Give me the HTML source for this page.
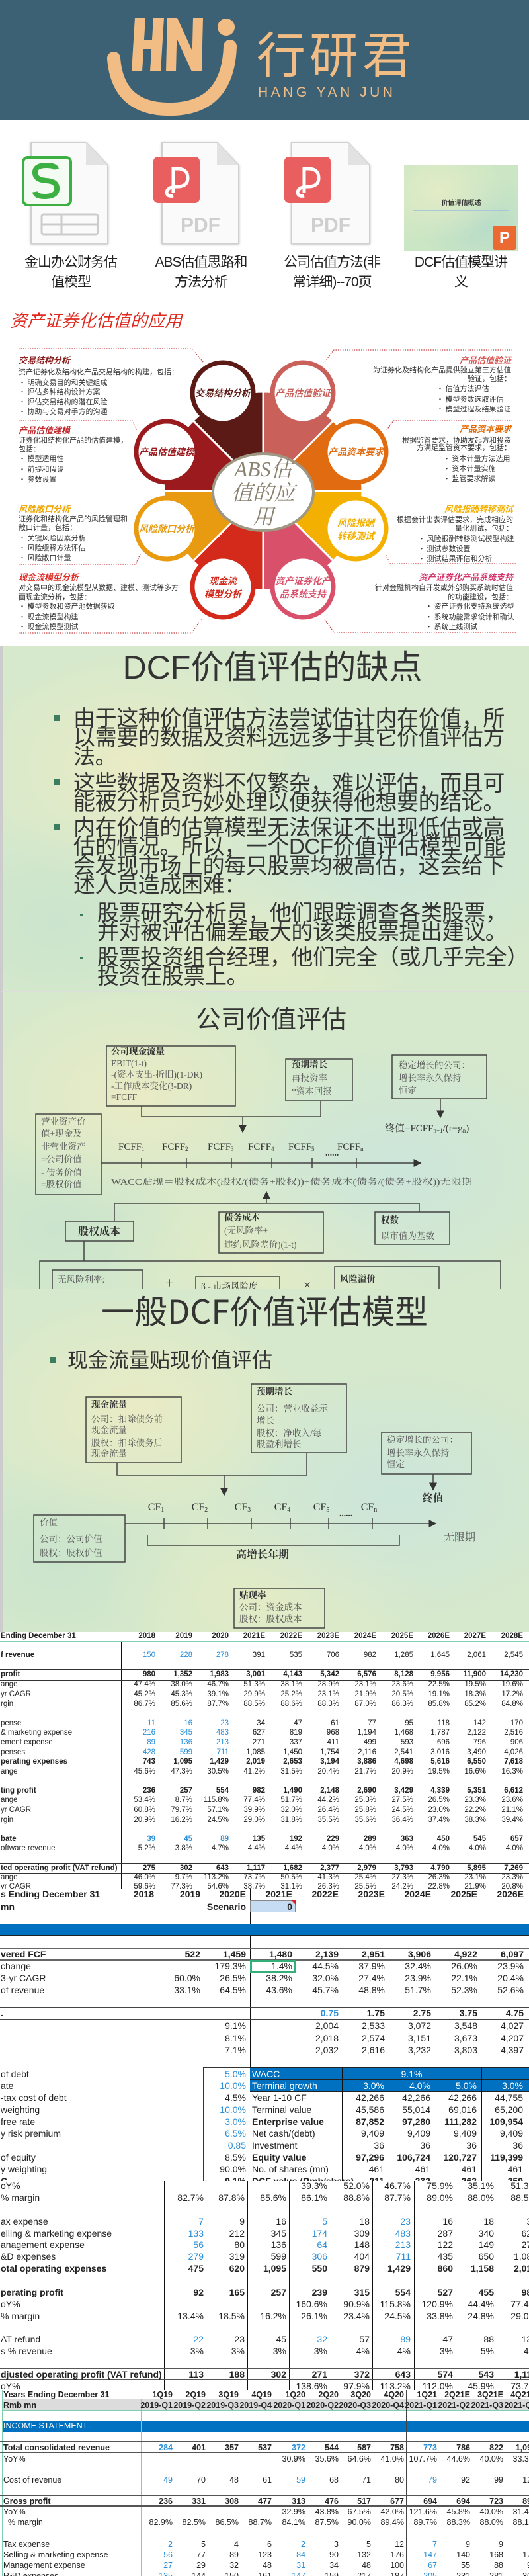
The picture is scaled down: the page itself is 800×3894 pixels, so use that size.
<!DOCTYPE html>
<html><head><meta charset="utf-8">
<style>
*{margin:0;padding:0;box-sizing:border-box}
body{width:800px;height:3894px;position:relative;overflow:hidden;background:#fff;font-family:"Liberation Sans","Noto Sans CJK SC",sans-serif;color:#222}
.abs{position:absolute}
.banner{left:0;top:0;width:800px;height:182px;background:#3c6175}
.lbl{position:absolute;width:180px;text-align:center;font-size:21px;line-height:30px;color:#222;letter-spacing:-1px}
.slide{position:absolute;left:0;width:800px;overflow:hidden;border-left:4px solid #ccc;
background:radial-gradient(ellipse 260px 180px at 25% 35%,rgba(238,236,195,.8),transparent),radial-gradient(ellipse 300px 200px at 75% 60%,rgba(200,228,225,.7),transparent),radial-gradient(ellipse 250px 160px at 50% 90%,rgba(232,236,195,.7),transparent),radial-gradient(ellipse 220px 160px at 10% 80%,rgba(195,225,205,.6),transparent),#d6e9cc}
.bt{position:absolute;left:107px;font-size:33px;line-height:29px;white-space:nowrap;color:#333;letter-spacing:-0.4px}
.sq{position:absolute;width:9px;height:9px;background:#3d7d5f}
.T{position:absolute;left:0;width:800px;background:#fff;overflow:hidden}
.r{position:absolute;left:0;width:800px;height:16px;line-height:16px;white-space:nowrap}
.r span{position:absolute;top:0;text-align:right;width:60px}
.r span:first-child{left:1px;text-align:left;width:auto}
.b{font-weight:bold}
.u{color:#2a8fd8}
.T1 .r{font-size:11.5px;font-family:"Liberation Sans Narrow","Liberation Sans",sans-serif}
.T1 .r span:nth-child(2){left:175px}.T1 .r span:nth-child(3){left:231px}.T1 .r span:nth-child(4){left:286px}.T1 .r span:nth-child(5){left:341px}.T1 .r span:nth-child(6){left:397px}.T1 .r span:nth-child(7){left:453px}.T1 .r span:nth-child(8){left:509px}.T1 .r span:nth-child(9){left:565px}.T1 .r span:nth-child(10){left:620px}.T1 .r span:nth-child(11){left:675px}.T1 .r span:nth-child(12){left:731px}
.T2 .r{font-size:14px;height:18px;line-height:18px;font-family:"Liberation Sans Narrow","Liberation Sans",sans-serif}
.T2 .r span:nth-child(2){left:173px}.T2 .r span:nth-child(3){left:243px}.T2 .r span:nth-child(4){left:312px}.T2 .r span:nth-child(5){left:382px}.T2 .r span:nth-child(6){left:452px}.T2 .r span:nth-child(7){left:522px}.T2 .r span:nth-child(8){left:592px}.T2 .r span:nth-child(9){left:662px}.T2 .r span:nth-child(10){left:732px}
.T3 .r{font-size:14px;height:18px;line-height:18px;font-family:"Liberation Sans Narrow","Liberation Sans",sans-serif}
.T3 .r span:nth-child(2){left:248px}.T3 .r span:nth-child(3){left:310px}.T3 .r span:nth-child(4){left:373px}.T3 .r span:nth-child(5){left:435px}.T3 .r span:nth-child(6){left:499px}.T3 .r span:nth-child(7){left:561px}.T3 .r span:nth-child(8){left:625px}.T3 .r span:nth-child(9){left:687px}.T3 .r span:nth-child(10){left:752px}
.T4 .r{font-size:12.5px;font-family:"Liberation Sans Narrow","Liberation Sans",sans-serif}
.T4 .r span{width:50px}
.T4 .r span:nth-child(2){left:211px}.T4 .r span:nth-child(3){left:261px}.T4 .r span:nth-child(4){left:311px}.T4 .r span:nth-child(5){left:361px}.T4 .r span:nth-child(6){left:412px}.T4 .r span:nth-child(7){left:462px}.T4 .r span:nth-child(8){left:511px}.T4 .r span:nth-child(9){left:561px}.T4 .r span:nth-child(10){left:611px}.T4 .r span:nth-child(11){left:661px}.T4 .r span:nth-child(12){left:711px}.T4 .r span:nth-child(13){left:761px}
.hl{position:absolute;left:0;width:800px;height:2px;background:#333}
.vl{position:absolute;width:1px;background:#111}
</style></head><body>

<!-- banner -->
<div class="abs banner"></div>
<svg class="abs" style="left:0;top:0" width="800" height="182">
 <g fill="#f2bd85">
  <polygon points="204,27 220,27 215,108 199,108"/>
  <polygon points="232,27 248,27 243,108 227,108"/>
  <polygon points="206,60 242,60 240,74 204,74"/>
  <polygon points="253,27 268,27 266,108 251,108"/>
  <polygon points="292,27 307,27 305,108 290,108"/>
  <polygon points="253,27 268,27 305,108 290,108"/>
  <circle cx="342" cy="41" r="13"/>
 </g>
 <path d="M172,88 Q178,168 262,165 Q345,162 348,70" fill="none" stroke="#f2bd85" stroke-width="20" stroke-linecap="round"/>
 <text x="388" y="110" font-size="74" fill="#f2bd85" font-family="Noto Sans CJK SC,sans-serif" letter-spacing="6">行研君</text>
 <text x="390" y="146" font-size="21" fill="#f2bd85" font-family="Liberation Sans,sans-serif" letter-spacing="4.5">HANG YAN JUN</text>
</svg>

<!-- icons -->
<svg class="abs" style="left:0;top:200" width="800" height="190">
 <defs><filter id="sh"><feDropShadow dx="0" dy="1" stdDeviation="1.5" flood-opacity=".25"/></filter></defs>
 <g filter="url(#sh)">
  <path d="M47,15 H130 L163,50 V168 H47 Z" fill="#fafafa" stroke="#d0d0d0" stroke-width="2"/>
  <path d="M245,15 H328 L361,50 V168 H245 Z" fill="#fafafa" stroke="#d0d0d0" stroke-width="2"/>
  <path d="M441,15 H526 L559,50 V168 H441 Z" fill="#fafafa" stroke="#d0d0d0" stroke-width="2"/>
 </g>
 <path d="M130,15 V50 H163" fill="#e2e2e2"/><path d="M328,15 V50 H361" fill="#e2e2e2"/><path d="M526,15 V50 H559" fill="#e2e2e2"/>
 <rect x="35" y="38" width="72" height="72" rx="7" fill="#f4fbf2" stroke="#3cb043" stroke-width="4"/>
 <path d="M85,56 Q84,50 70,50 Q52,50 53,62 Q54,72 70,73 Q87,74 86,86 Q85,97 68,97 Q54,97 53,90" fill="none" stroke="#3cb043" stroke-width="8"/>
 <rect x="63" y="124" width="85" height="30" rx="3" fill="none" stroke="#ccc" stroke-width="3"/>
 <line x1="63" y1="139" x2="148" y2="139" stroke="#ccc" stroke-width="3"/><line x1="93" y1="124" x2="93" y2="154" stroke="#ccc" stroke-width="3"/>
 <rect x="232" y="37" width="70" height="70" rx="7" fill="#e95e5e"/>
 <rect x="430" y="37" width="70" height="70" rx="7" fill="#e95e5e"/>
 <path d="M262,92 V55 H268 Q284,55 284,69 Q284,82 268,82 Q254,82 252,90 Q252,98 262,96" fill="none" stroke="#fff" stroke-width="5"/>
 <path d="M460,92 V55 H466 Q482,55 482,69 Q482,82 466,82 Q452,82 450,90 Q450,98 460,96" fill="none" stroke="#fff" stroke-width="5"/>
 <text x="303" y="150" font-size="30" text-anchor="middle" fill="#cfcfcf" font-weight="bold" font-family="Liberation Sans,sans-serif">PDF</text>
 <text x="500" y="150" font-size="30" text-anchor="middle" fill="#cfcfcf" font-weight="bold" font-family="Liberation Sans,sans-serif">PDF</text>
</svg>
<div class="abs" style="left:611px;top:250px;width:173px;height:130px;background:radial-gradient(ellipse at 30% 30%,#e3ecc6,transparent 60%),radial-gradient(ellipse at 70% 70%,#b9dcc8,transparent 60%),#cbe6c4"></div>
<div class="abs" style="left:611px;top:298px;width:173px;text-align:center;font-size:10px;font-weight:bold;color:#333">价值评估概述</div>
<div class="abs" style="left:625px;top:318px;width:145px;height:1px;background:#a8c8d8"></div>
<div class="abs" style="left:745px;top:341px;width:36px;height:37px;border-radius:4px;background:#ec6a32;color:#fff;font-size:24px;font-weight:bold;text-align:center;line-height:37px">P</div>
<div class="lbl" style="left:17px;top:382px">金山办公财务估<br>值模型</div>
<div class="lbl" style="left:214px;top:382px">ABS估值思路和<br>方法分析</div>
<div class="lbl" style="left:412px;top:382px">公司估值方法(非<br>常详细)--70页</div>
<div class="lbl" style="left:607px;top:382px">DCF估值模型讲<br>义</div>

<!-- ABS diagram -->
<svg class="abs" style="left:0;top:0" width="800" height="970">
 <text x="15" y="494" font-size="26" fill="#e02a20" font-style="italic" font-family="Noto Sans CJK SC,sans-serif">资产证券化估值的应用</text>
 <g fill="none" stroke="#c84040" stroke-width="1.3" stroke-dasharray="1.5,2">
  <polyline points="28,527 290,527 308,548"/><polyline points="28,636 200,636 207,650"/>
  <polyline points="28,853 205,853 212,838"/><polyline points="28,957 290,957 305,935"/>
  <polyline points="775,529 505,529 490,548"/><polyline points="775,636 595,636 585,650"/>
  <polyline points="780,852 590,852 583,838"/><polyline points="780,956 505,956 490,935"/>
 </g>
 <g stroke="#fff" stroke-width="3">
  <path d="M398,742 L292,636 A150,150 0 0 1 398,592 Z" fill="#5c1a16"/>
  <path d="M398,742 L398,592 A150,150 0 0 1 504,636 Z" fill="#c9605a"/>
  <path d="M398,742 L504,636 A150,150 0 0 1 548,742 Z" fill="#e06b10"/>
  <path d="M398,742 L548,742 A150,150 0 0 1 504,848 Z" fill="#f3b000"/>
  <path d="M398,742 L504,848 A150,150 0 0 1 398,892 Z" fill="#d9506a"/>
  <path d="M398,742 L398,892 A150,150 0 0 1 292,848 Z" fill="#d42a1c"/>
  <path d="M398,742 L292,848 A150,150 0 0 1 248,742 Z" fill="#e89a10"/>
  <path d="M398,742 L248,742 A150,150 0 0 1 292,636 Z" fill="#9a1a1e"/>
 </g>
 <g fill="#fff" stroke-width="7">
  <ellipse cx="337" cy="594" rx="46" ry="46" stroke="#5c1a16"/>
  <ellipse cx="458" cy="594" rx="46" ry="46" stroke="#c9605a"/>
  <ellipse cx="252" cy="683" rx="46" ry="46" stroke="#9a1a1e"/>
  <ellipse cx="538" cy="683" rx="46" ry="46" stroke="#e06b10"/>
  <ellipse cx="252" cy="799" rx="46" ry="46" stroke="#e89a10"/>
  <ellipse cx="538" cy="799" rx="46" ry="46" stroke="#f3b000"/>
  <ellipse cx="337" cy="887" rx="46" ry="46" stroke="#d42a1c"/>
  <ellipse cx="458" cy="887" rx="46" ry="46" stroke="#d9506a"/>
  <ellipse cx="398" cy="744" rx="76" ry="58" stroke="#9e9784" stroke-width="4"/>
 </g>
 <g font-size="14" font-weight="bold" font-style="italic" text-anchor="middle" font-family="Noto Sans CJK SC,sans-serif">
  <text x="337" y="599" fill="#5c1a16">交易结构分析</text>
  <text x="458" y="599" fill="#c9605a">产品估值验证</text>
  <text x="252" y="688" fill="#9a1a1e">产品估值建模</text>
  <text x="538" y="688" fill="#e06b10">产品资本要求</text>
  <text x="252" y="804" fill="#e89a10">风险敞口分析</text>
  <text x="538" y="795" fill="#f3b000">风险报酬</text><text x="538" y="815" fill="#f3b000">转移测试</text>
  <text x="337" y="883" fill="#d42a1c">现金流</text><text x="337" y="903" fill="#d42a1c">模型分析</text>
  <text x="458" y="883" fill="#d9506a">资产证券化产</text><text x="458" y="903" fill="#d9506a">品系统支持</text>
 </g>
 <g font-size="32" fill="#8a8270" text-anchor="middle" font-style="italic" font-family="Liberation Serif,Noto Serif CJK SC,serif">
  <text x="398" y="720">ABS估</text><text x="398" y="756">值的应</text><text x="398" y="792">用</text>
 </g>
 <g font-size="13" font-weight="bold" font-style="italic" font-family="Noto Sans CJK SC,sans-serif">
  <text x="28" y="549" fill="#8b2020">交易结构分析</text>
  <text x="28" y="655" fill="#c0282d">产品估值建模</text>
  <text x="28" y="774" fill="#f0a500">风险敞口分析</text>
  <text x="28" y="877" fill="#e0302a">现金流模型分析</text>
  <g text-anchor="end">
  <text x="773" y="549" fill="#d9534f">产品估值验证</text>
  <text x="773" y="653" fill="#e36c09">产品资本要求</text>
  <text x="776" y="774" fill="#f5b000">风险报酬转移测试</text>
  <text x="776" y="877" fill="#d6336c">资产证券化产品系统支持</text></g>
 </g>
 <g font-size="11" fill="#333" font-family="Noto Sans CJK SC,sans-serif">
  <text x="28" y="566">资产证券化及结构化产品交易结构的构建，包括：</text>
  <text x="28" y="582">•  明确交易目的和关键组成</text><text x="28" y="596">•  评估多种结构设计方案</text>
  <text x="28" y="611">•  评估交易结构的潜在风险</text><text x="28" y="626">•  协助与交易对手方的沟通</text>
  <text x="28" y="669">证券化和结构化产品的估值建模，</text><text x="28" y="682">包括：</text>
  <text x="28" y="697">•  模型适用性</text><text x="28" y="713">•  前提和假设</text><text x="28" y="728">•  参数设置</text>
  <text x="28" y="788">证券化和结构化产品的风险管理和</text><text x="28" y="801">敞口计量，包括：</text>
  <text x="28" y="817">•  关键风险因素分析</text><text x="28" y="832">•  风险缓释方法评估</text><text x="28" y="847">•  风险敞口计量</text>
  <text x="28" y="892">对交易中的现金流模型从数据、建模、测试等多方</text><text x="28" y="906">面现金流分析，包括：</text>
  <text x="28" y="920">•  模型参数和资产池数据获取</text><text x="28" y="936">•  现金流模型构建</text><text x="28" y="951">•  现金流模型测试</text>
  <g text-anchor="end">
  <text x="773" y="563">为证券化及结构化产品提供独立第三方估值</text><text x="773" y="576">验证，包括：</text>
  <text x="773" y="669">根据监管要求，协助发起方和投资</text><text x="773" y="680">方满足监管资本要求，包括：</text>
  <text x="776" y="789">根据会计出表评估要求，完成相应的</text><text x="776" y="802">量化测试，包括：</text>
  <text x="776" y="892">针对金融机构自开发或外部购买系统时估值</text><text x="776" y="906">的功能建设，包括：</text></g>
  <text x="660" y="591">•  估值方法评估</text><text x="660" y="607">•  模型参数选取评估</text><text x="660" y="622">•  模型过程及结果验证</text>
  <text x="670" y="697">•  资本计量方法选用</text><text x="670" y="712">•  资本计量实施</text><text x="670" y="727">•  监管要求解读</text>
  <text x="632" y="818">•  风险报酬转移测试模型构建</text><text x="632" y="833">•  测试参数设置</text><text x="632" y="848">•  测试结果评估和分析</text>
  <text x="643" y="920">•  资产证券化支持系统选型</text><text x="643" y="936">•  系统功能需求设计和确认</text><text x="643" y="951">•  系统上线测试</text>
 </g>
</svg>

<!-- slide 1 -->
<div class="slide" style="top:976px;height:522px">
 <div class="abs" style="left:0;top:5px;width:796px;text-align:center;font-size:50px;line-height:56px;color:#333;padding-left:20px">DCF价值评估的缺点</div>
 <div class="sq" style="left:78px;top:105px"></div>
 <div class="bt" style="top:95px">由于这种价值评估方法尝试估计内在价值，所<br>以需要的数据及资料远远多于其它价值评估方<br>法。</div>
 <div class="sq" style="left:78px;top:202px"></div>
 <div class="bt" style="top:193px">这些数据及资料不仅繁杂，难以评估，而且可<br>能被分析员巧妙处理以便获得他想要的结论。</div>
 <div class="sq" style="left:78px;top:270px"></div>
 <div class="bt" style="top:260px">内在价值的估算模型无法保证不出现低估或高<br>估的情况。所以，一个DCF价值评估模型可能<br>会发现市场上的每只股票均被高估，这会给下<br>述人员造成困难：</div>
 <div class="abs" style="left:117px;top:405px;width:4px;height:4px;background:#3d7d5f"></div>
 <div class="bt" style="left:143px;top:389px">股票研究分析员，他们跟踪调查各类股票，<br>并对被评估偏差最大的该类股票提出建议。</div>
 <div class="abs" style="left:117px;top:470px;width:4px;height:4px;background:#3d7d5f"></div>
 <div class="bt" style="left:143px;top:456px">股票投资组合经理，他们完全（或几乎完全）<br>投资在股票上。</div>
</div>

<!-- slide 2 -->
<div class="slide" style="top:1498px;height:450px;border-top:1px solid #ddd">
<svg class="abs" style="left:-4px;top:0" width="800" height="450">
 <defs><marker id="ah" markerWidth="8" markerHeight="8" refX="7" refY="4" orient="auto"><path d="M0,0 L8,4 L0,8 Z" fill="#333"/></marker></defs>
 <text x="410" y="55" font-size="38" text-anchor="middle" fill="#333" font-family="Noto Sans CJK SC,sans-serif">公司价值评估</text>
 <g fill="none" stroke="#444" stroke-width="1.5">
  <rect x="161" y="82" width="195" height="91"/><rect x="432" y="102" width="101" height="63"/><rect x="593" y="96" width="143" height="66"/>
  <rect x="54" y="185" width="99" height="122"/>
  <polyline points="214,173 214,189 485,189 485,165"/>
  <line x1="367" y1="189" x2="367" y2="212" marker-end="url(#ah)"/>
  <line x1="666" y1="162" x2="666" y2="190" marker-end="url(#ah)"/>
  <line x1="153" y1="259" x2="636" y2="259" marker-end="url(#ah)"/>
  <path d="M214,252V266M282,252V266M350,252V266M411,252V266M472,252V266M539,252V266"/>
  <line x1="403" y1="320" x2="403" y2="303" marker-end="url(#ah)"/>
  <polyline points="173,347 173,320 634,320 634,333"/>
  <rect x="99" y="347" width="103" height="30"/><rect x="331" y="333" width="158" height="62"/><rect x="567" y="333" width="113" height="49"/>
  <line x1="127" y1="377" x2="127" y2="407"/><rect x="60" y="407" width="697" height="80"/>
  <rect x="79" y="421" width="137" height="40"/><rect x="296" y="431" width="127" height="30"/><rect x="506" y="416" width="158" height="40"/>
 </g>
 <g font-family="Liberation Serif,Noto Serif CJK SC,serif" fill="#555" font-size="13.5">
  <text x="168" y="95" font-weight="bold" fill="#333">公司现金流量</text>
  <text x="168" y="113">EBIT(1-t)</text><text x="168" y="130">-(资本支出-折旧)(1-DR)</text><text x="168" y="147">-工作成本变化(!-DR)</text><text x="168" y="164">=FCFF</text>
  <text x="441" y="115" font-weight="bold" fill="#333">预期增长</text><text x="441" y="135">再投资率</text><text x="441" y="155">*资本回报</text>
  <text x="603" y="116">稳定增长的公司：</text><text x="603" y="135">增长率永久保持</text><text x="603" y="154">恒定</text>
  <text x="582" y="211" font-size="15" fill="#333">终值=FCFF<tspan font-size="9" dy="2">n+1</tspan><tspan dy="-2">/(r−g</tspan><tspan font-size="9" dy="2">n</tspan><tspan dy="-2">)</tspan></text>
  <text x="62" y="201">营业资产价</text><text x="62" y="219">值+现金及</text><text x="62" y="239">非营业资产</text><text x="62" y="258">=公司价值</text><text x="62" y="278">- 债务价值</text><text x="62" y="296">=股权价值</text>
  <g font-size="15" fill="#333"><text x="179" y="239">FCFF<tspan font-size="9" dy="2">1</tspan></text><text x="245" y="239">FCFF<tspan font-size="9" dy="2">2</tspan></text><text x="314" y="239">FCFF<tspan font-size="9" dy="2">3</tspan></text><text x="375" y="239">FCFF<tspan font-size="9" dy="2">4</tspan></text><text x="436" y="239">FCFF<tspan font-size="9" dy="2">5</tspan></text><text x="510" y="239">FCFF<tspan font-size="9" dy="2">n</tspan></text></g>
  <text x="492" y="248" font-weight="bold" fill="#333">......</text>
  <text x="168" y="292" textLength="546" lengthAdjust="spacingAndGlyphs">WACC贴现＝股权成本(股权/(债务+股权))+债务成本(债务/(债务+股权))无限期</text>
  <text x="150" y="368" font-size="16" font-weight="bold" text-anchor="middle" fill="#333">股权成本</text>
  <text x="339" y="346" font-weight="bold" fill="#333">债务成本</text><text x="339" y="366">(无风险率+</text><text x="339" y="387">违约风险差价)(1-t)</text>
  <text x="576" y="350" font-weight="bold" fill="#333">权数</text><text x="576" y="374">以市值为基数</text>
  <text x="87" y="440">无风险利率:</text><text x="250" y="448" font-size="22" fill="#333">+</text>
  <text x="304" y="450" fill="#333">β - 市场风险度</text><text x="459" y="450" font-size="20" fill="#333">×</text>
  <text x="514" y="439" font-weight="bold" fill="#333">风险溢价</text>
 </g>
</svg>
</div>

<!-- slide 3 -->
<div class="slide" style="top:1948px;height:519px;border-top:1px solid #ddd">
<svg class="abs" style="left:-4px;top:0" width="800" height="519">
 <defs><marker id="ah2" markerWidth="8" markerHeight="8" refX="7" refY="4" orient="auto"><path d="M0,0 L8,4 L0,8 Z" fill="#333"/></marker></defs>
 <text x="400" y="52" font-size="50" text-anchor="middle" fill="#333" font-family="Noto Sans CJK SC,sans-serif">一般DCF价值评估模型</text>
 <rect x="76" y="102" width="9" height="9" fill="#3d7d5f"/>
 <text x="102" y="118" font-size="31" fill="#333" font-family="Noto Sans CJK SC,sans-serif">现金流量贴现价值评估</text>
 <g fill="none" stroke="#444" stroke-width="1.5">
  <rect x="130" y="163" width="144" height="99"/><rect x="380" y="143" width="144" height="104"/><rect x="577" y="216" width="136" height="63"/>
  <polyline points="177,262 177,281 464,281 464,247"/>
  <line x1="339" y1="281" x2="339" y2="311" marker-end="url(#ah2)"/>
  <line x1="655" y1="279" x2="655" y2="303" marker-end="url(#ah2)"/>
  <line x1="189" y1="354" x2="659" y2="354" marker-end="url(#ah2)"/>
  <path d="M248,346V362M314,346V362M380,346V362M439,346V362M497,346V362M563,346V362"/>
  <rect x="51" y="341" width="138" height="71"/>
  <path d="M223,372V387H604V372"/>
  <rect x="354" y="452" width="137" height="60"/>
 </g>
 <g font-family="Liberation Serif,Noto Serif CJK SC,serif" fill="#555" font-size="13.5">
  <text x="138" y="179" font-weight="bold" fill="#333">现金流量</text><text x="138" y="201">公司：扣除债务前</text><text x="138" y="217">现金流量</text><text x="138" y="237">股权：扣除债务后</text><text x="138" y="253">现金流量</text>
  <text x="388" y="159" font-weight="bold" fill="#333">预期增长</text><text x="388" y="185">公司：营业收益示</text><text x="388" y="203">增长</text><text x="388" y="222">股权：净收入/每</text><text x="388" y="239">股盈利增长</text>
  <text x="585" y="232">稳定增长的公司：</text><text x="585" y="252">增长率永久保持</text><text x="585" y="269">恒定</text>
  <text x="655" y="321" font-size="16" font-weight="bold" text-anchor="middle" fill="#333">终值</text>
  <g font-size="16" fill="#333" text-anchor="middle"><text x="236" y="334">CF<tspan font-size="10" dy="2">1</tspan></text><text x="302" y="334">CF<tspan font-size="10" dy="2">2</tspan></text><text x="367" y="334">CF<tspan font-size="10" dy="2">3</tspan></text><text x="427" y="334">CF<tspan font-size="10" dy="2">4</tspan></text><text x="486" y="334">CF<tspan font-size="10" dy="2">5</tspan></text><text x="558" y="334">CF<tspan font-size="10" dy="2">n</tspan></text></g>
  <text x="513" y="343" font-weight="bold" fill="#333">......</text>
  <text x="60" y="357">价值</text><text x="60" y="382">公司：公司价值</text><text x="60" y="403">股权：股权价值</text>
  <text x="671" y="380" font-size="16">无限期</text>
  <text x="397" y="406" font-size="16" font-weight="bold" text-anchor="middle" fill="#333">高增长年期</text>
  <text x="362" y="467" font-weight="bold" fill="#333">贴现率</text><text x="362" y="485">公司：资金成本</text><text x="362" y="503">股权：股权成本</text>
 </g>
</svg>
</div>

<!-- table 1 -->
<div class="T T1" style="top:2467px;height:389px">
 <div class="abs" style="left:0;top:13px;width:800px;height:2px;background:#7fd0b0"></div>
 <div class="vl" style="left:183px;top:15px;height:374px"></div><div class="vl" style="left:349px;top:0;height:389px"></div>
 <div class="hl" style="top:56px"></div><div class="hl" style="top:72px"></div><div class="hl" style="top:349px"></div><div class="hl" style="top:364px"></div>
 <div class="r b" style="top:-2px"><span>Ending December 31</span><span>2018</span><span>2019</span><span>2020</span><span>2021E</span><span>2022E</span><span>2023E</span><span>2024E</span><span>2025E</span><span>2026E</span><span>2027E</span><span>2028E</span></div>
 <div class="r" style="top:27px"><span class="b">f revenue</span><span class="u">150</span><span class="u">228</span><span class="u">278</span><span>391</span><span>535</span><span>706</span><span>982</span><span>1,285</span><span>1,645</span><span>2,061</span><span>2,545</span></div>
 <div class="r b" style="top:56px"><span>profit</span><span>980</span><span>1,352</span><span>1,983</span><span>3,001</span><span>4,143</span><span>5,342</span><span>6,576</span><span>8,128</span><span>9,956</span><span>11,900</span><span>14,230</span></div>
 <div class="r" style="top:71px"><span>ange</span><span>47.4%</span><span>38.0%</span><span>46.7%</span><span>51.3%</span><span>38.1%</span><span>28.9%</span><span>23.1%</span><span>23.6%</span><span>22.5%</span><span>19.5%</span><span>19.6%</span></div>
 <div class="r" style="top:86px"><span>yr CAGR</span><span>45.2%</span><span>45.3%</span><span>39.1%</span><span>29.9%</span><span>25.2%</span><span>23.1%</span><span>21.9%</span><span>20.5%</span><span>19.1%</span><span>18.3%</span><span>17.2%</span></div>
 <div class="r" style="top:101px"><span>rgin</span><span>86.7%</span><span>85.6%</span><span>87.7%</span><span>88.5%</span><span>88.6%</span><span>88.3%</span><span>87.0%</span><span>86.3%</span><span>85.8%</span><span>85.2%</span><span>84.8%</span></div>
 <div class="r" style="top:130px"><span>pense</span><span class="u">11</span><span class="u">16</span><span class="u">23</span><span>34</span><span>47</span><span>61</span><span>77</span><span>95</span><span>118</span><span>142</span><span>170</span></div>
 <div class="r" style="top:144px"><span>&amp; marketing expense</span><span class="u">216</span><span class="u">345</span><span class="u">483</span><span>627</span><span>819</span><span>968</span><span>1,194</span><span>1,468</span><span>1,787</span><span>2,122</span><span>2,516</span></div>
 <div class="r" style="top:159px"><span>ement expense</span><span class="u">89</span><span class="u">136</span><span class="u">213</span><span>271</span><span>337</span><span>411</span><span>499</span><span>593</span><span>696</span><span>796</span><span>906</span></div>
 <div class="r" style="top:174px"><span>penses</span><span class="u">428</span><span class="u">599</span><span class="u">711</span><span>1,085</span><span>1,450</span><span>1,754</span><span>2,116</span><span>2,541</span><span>3,016</span><span>3,490</span><span>4,026</span></div>
 <div class="r b" style="top:188px"><span>perating expenses</span><span>743</span><span>1,095</span><span>1,429</span><span>2,019</span><span>2,653</span><span>3,194</span><span>3,886</span><span>4,698</span><span>5,616</span><span>6,550</span><span>7,618</span></div>
 <div class="r" style="top:203px"><span>ange</span><span>45.6%</span><span>47.3%</span><span>30.5%</span><span>41.2%</span><span>31.5%</span><span>20.4%</span><span>21.7%</span><span>20.9%</span><span>19.5%</span><span>16.6%</span><span>16.3%</span></div>
 <div class="r b" style="top:232px"><span>ting profit</span><span>236</span><span>257</span><span>554</span><span>982</span><span>1,490</span><span>2,148</span><span>2,690</span><span>3,429</span><span>4,339</span><span>5,351</span><span>6,612</span></div>
 <div class="r" style="top:246px"><span>ange</span><span>53.4%</span><span>8.7%</span><span>115.8%</span><span>77.4%</span><span>51.7%</span><span>44.2%</span><span>25.3%</span><span>27.5%</span><span>26.5%</span><span>23.3%</span><span>23.6%</span></div>
 <div class="r" style="top:261px"><span>yr CAGR</span><span>60.8%</span><span>79.7%</span><span>57.1%</span><span>39.9%</span><span>32.0%</span><span>26.4%</span><span>25.8%</span><span>24.5%</span><span>23.0%</span><span>22.2%</span><span>21.1%</span></div>
 <div class="r" style="top:276px"><span>rgin</span><span>20.9%</span><span>16.2%</span><span>24.5%</span><span>29.0%</span><span>31.8%</span><span>35.5%</span><span>35.6%</span><span>36.4%</span><span>37.4%</span><span>38.3%</span><span>39.4%</span></div>
 <div class="r b" style="top:305px"><span>bate</span><span class="u">39</span><span class="u">45</span><span class="u">89</span><span>135</span><span>192</span><span>229</span><span>289</span><span>363</span><span>450</span><span>545</span><span>657</span></div>
 <div class="r" style="top:319px"><span>oftware revenue</span><span>5.2%</span><span>3.8%</span><span>4.7%</span><span>4.4%</span><span>4.4%</span><span>4.0%</span><span>4.0%</span><span>4.0%</span><span>4.0%</span><span>4.0%</span><span>4.0%</span></div>
 <div class="r b" style="top:349px"><span>ted operating profit (VAT refund)</span><span>275</span><span>302</span><span>643</span><span>1,117</span><span>1,682</span><span>2,377</span><span>2,979</span><span>3,793</span><span>4,790</span><span>5,895</span><span>7,269</span></div>
 <div class="r" style="top:363px"><span>ange</span><span>46.0%</span><span>9.7%</span><span>113.2%</span><span>73.7%</span><span>50.5%</span><span>41.3%</span><span>25.4%</span><span>27.3%</span><span>26.3%</span><span>23.1%</span><span>23.3%</span></div>
 <div class="r" style="top:377px"><span>yr CAGR</span><span>59.6%</span><span>77.3%</span><span>54.6%</span><span>38.7%</span><span>31.1%</span><span>26.3%</span><span>25.5%</span><span>24.2%</span><span>22.8%</span><span>21.9%</span><span>20.8%</span></div>
</div>

<!-- table 2 -->
<div class="T T2" style="top:2856px;height:441px">
 <div class="vl" style="left:152px;top:0;height:441px"></div><div class="vl" style="left:378px;top:0;height:269px"></div>
 <div class="abs" style="left:0;top:52px;width:800px;height:18px;background:#0070c0;border-top:1px solid #222;border-bottom:1px solid #222"></div>
 <div class="hl" style="top:88px;background:#666"></div><div class="hl" style="top:106px;background:#666"></div>
 <div class="hl" style="top:178px;background:#444"></div><div class="hl" style="top:196px;background:#444"></div>
 <div class="abs" style="left:378px;top:16px;width:69px;height:19px;background:#c5dcf2;border:1px solid #888"></div>
 <div class="abs" style="left:440px;top:16px;width:0;height:0;border-left:7px solid transparent;border-top:7px solid #e02020"></div>
 <div class="abs" style="left:378px;top:107px;width:70px;height:19px;border:3px solid #33b07a"></div>
 <div class="r b" style="top:-2px"><span>s Ending December 31</span><span>2018</span><span>2019</span><span>2020E</span><span>2021E</span><span>2022E</span><span>2023E</span><span>2024E</span><span>2025E</span><span>2026E</span></div>
 <div class="r b" style="top:17px"><span>mn</span><span></span><span></span><span>Scenario</span><span>0</span></div>
 <div class="r b" style="top:89px"><span>vered FCF</span><span></span><span>522</span><span>1,459</span><span>1,480</span><span>2,139</span><span>2,951</span><span>3,906</span><span>4,922</span><span>6,097</span></div>
 <div class="r" style="top:107px"><span>change</span><span></span><span></span><span>179.3%</span><span>1.4%</span><span>44.5%</span><span>37.9%</span><span>32.4%</span><span>26.0%</span><span>23.9%</span></div>
 <div class="r" style="top:125px"><span>3-yr CAGR</span><span></span><span>60.0%</span><span>26.5%</span><span>38.2%</span><span>32.0%</span><span>27.4%</span><span>23.9%</span><span>22.1%</span><span>20.4%</span></div>
 <div class="r" style="top:143px"><span>of revenue</span><span></span><span>33.1%</span><span>64.5%</span><span>43.6%</span><span>45.7%</span><span>48.8%</span><span>51.7%</span><span>52.3%</span><span>52.6%</span></div>
 <div class="r b" style="top:178px"><span>.</span><span></span><span></span><span></span><span></span><span class="u">0.75</span><span>1.75</span><span>2.75</span><span>3.75</span><span>4.75</span></div>
 <div class="r" style="top:197px"><span></span><span></span><span></span><span>9.1%</span><span></span><span>2,004</span><span>2,533</span><span>3,072</span><span>3,548</span><span>4,027</span></div>
 <div class="r" style="top:216px"><span></span><span></span><span></span><span>8.1%</span><span></span><span>2,018</span><span>2,574</span><span>3,151</span><span>3,673</span><span>4,207</span></div>
 <div class="r" style="top:234px"><span></span><span></span><span></span><span>7.1%</span><span></span><span>2,032</span><span>2,616</span><span>3,232</span><span>3,803</span><span>4,397</span></div>
 <div class="abs" style="left:307px;top:269px;width:1px;height:172px;background:#333"></div>
 <div class="abs" style="left:307px;top:269px;width:71px;height:1px;background:#333"></div>
 <div class="abs" style="left:378px;top:269px;width:422px;height:37px;background:#0070c0;border-top:1px solid #222;border-bottom:1px solid #222"></div>
 <div class="abs" style="left:378px;top:287px;width:422px;height:1px;background:#222"></div>
 <div class="vl" style="left:517px;top:269px;height:172px"></div><div class="vl" style="left:728px;top:269px;height:172px"></div>
 <div class="abs" style="left:517px;top:270px;width:211px;text-align:center;color:#fff;font-size:14px;line-height:18px;font-family:'Liberation Sans Narrow','Liberation Sans',sans-serif">9.1%</div>
 <div class="abs" style="left:381px;top:270px;color:#fff;font-size:14px;line-height:18px;font-family:'Liberation Sans Narrow','Liberation Sans',sans-serif">WACC</div>
 <div class="r" style="top:270px"><span>of debt</span><span></span><span></span><span class="u">5.0%</span></div>
 <div class="r" style="top:288px"><span>ate</span><span></span><span></span><span class="u">10.0%</span><span></span><span></span><span style="color:#fff;left:521px">3.0%</span><span style="color:#fff;left:591px">4.0%</span><span style="color:#fff;left:661px">5.0%</span><span style="color:#fff;left:731px">3.0%</span></div>
 <div class="abs" style="left:381px;top:288px;color:#fff;font-size:14px;line-height:18px;font-family:'Liberation Sans Narrow','Liberation Sans',sans-serif">Terminal growth</div>
 <div class="r" style="top:306px"><span>-tax cost of debt</span><span></span><span></span><span>4.5%</span><span style="left:381px;text-align:left;width:130px">Year 1-10 CF</span><span></span><span style="left:521px">42,266</span><span style="left:591px">42,266</span><span style="left:661px">42,266</span><span style="left:731px">44,755</span></div>
 <div class="r" style="top:324px"><span>weighting</span><span></span><span></span><span class="u">10.0%</span><span style="left:381px;text-align:left;width:130px">Terminal value</span><span></span><span style="left:521px">45,586</span><span style="left:591px">55,014</span><span style="left:661px">69,016</span><span style="left:731px">65,200</span></div>
 <div class="r" style="top:342px"><span>free rate</span><span></span><span></span><span class="u">3.0%</span><span class="b" style="left:381px;text-align:left;width:130px">Enterprise value</span><span></span><span class="b" style="left:521px">87,852</span><span class="b" style="left:591px">97,280</span><span class="b" style="left:661px">111,282</span><span class="b" style="left:731px">109,954</span></div>
 <div class="r" style="top:360px"><span>y risk premium</span><span></span><span></span><span class="u">6.5%</span><span style="left:381px;text-align:left;width:130px">Net cash/(debt)</span><span></span><span style="left:521px">9,409</span><span style="left:591px">9,409</span><span style="left:661px">9,409</span><span style="left:731px">9,409</span></div>
 <div class="r" style="top:378px"><span></span><span></span><span></span><span class="u">0.85</span><span style="left:381px;text-align:left;width:130px">Investment</span><span></span><span style="left:521px">36</span><span style="left:591px">36</span><span style="left:661px">36</span><span style="left:731px">36</span></div>
 <div class="r" style="top:396px"><span>of equity</span><span></span><span></span><span>8.5%</span><span class="b" style="left:381px;text-align:left;width:130px">Equity value</span><span></span><span class="b" style="left:521px">97,296</span><span class="b" style="left:591px">106,724</span><span class="b" style="left:661px">120,727</span><span class="b" style="left:731px">119,399</span></div>
 <div class="r" style="top:414px"><span>y weighting</span><span></span><span></span><span>90.0%</span><span style="left:381px;text-align:left;width:130px">No. of shares (mn)</span><span></span><span style="left:521px">461</span><span style="left:591px">461</span><span style="left:661px">461</span><span style="left:731px">461</span></div>
 <div class="r b" style="top:432px"><span>C</span><span></span><span></span><span>9.1%</span><span style="left:381px;text-align:left;width:130px">DCF value (Rmb/share)</span><span></span><span style="left:521px">211</span><span style="left:591px">232</span><span style="left:661px">262</span><span style="left:731px">259</span></div>
</div>

<!-- table 3 -->
<div class="T T3" style="top:3297px;height:316px">
 <div class="vl" style="left:248px;top:0;height:316px"></div><div class="vl" style="left:374px;top:0;height:316px"></div><div class="vl" style="left:437px;top:0;height:316px"></div><div class="vl" style="left:563px;top:0;height:316px"></div><div class="vl" style="left:626px;top:0;height:316px"></div><div class="vl" style="left:751px;top:0;height:316px"></div>
 <div class="hl" style="top:282px;background:#555"></div><div class="hl" style="top:299px;background:#555"></div>
 <div class="r" style="top:-2px"><span>oY%</span><span></span><span></span><span></span><span>39.3%</span><span>52.0%</span><span>46.7%</span><span>75.9%</span><span>35.1%</span><span>51.3%</span></div>
 <div class="r" style="top:16px"><span>% margin</span><span>82.7%</span><span>87.8%</span><span>85.6%</span><span>86.1%</span><span>88.8%</span><span>87.7%</span><span>89.0%</span><span>88.0%</span><span>88.5%</span></div>
 <div class="r" style="top:52px"><span>ax expense</span><span class="u">7</span><span>9</span><span>16</span><span class="u">5</span><span>18</span><span class="u">23</span><span>16</span><span>18</span><span>34</span></div>
 <div class="r" style="top:70px"><span>elling &amp; marketing expense</span><span class="u">133</span><span>212</span><span>345</span><span class="u">174</span><span>309</span><span class="u">483</span><span>287</span><span>340</span><span>627</span></div>
 <div class="r" style="top:87px"><span>anagement expense</span><span class="u">56</span><span>80</span><span>136</span><span class="u">64</span><span>148</span><span class="u">213</span><span>122</span><span>149</span><span>271</span></div>
 <div class="r" style="top:105px"><span>&amp;D expenses</span><span class="u">279</span><span>319</span><span>599</span><span class="u">306</span><span>404</span><span class="u">711</span><span>435</span><span>650</span><span>1,085</span></div>
 <div class="r b" style="top:123px"><span>otal operating expenses</span><span>475</span><span>620</span><span>1,095</span><span>550</span><span>879</span><span>1,429</span><span>860</span><span>1,158</span><span>2,019</span></div>
 <div class="r b" style="top:159px"><span>perating profit</span><span>92</span><span>165</span><span>257</span><span>239</span><span>315</span><span>554</span><span>527</span><span>455</span><span>982</span></div>
 <div class="r" style="top:177px"><span>oY%</span><span></span><span></span><span></span><span>160.6%</span><span>90.9%</span><span>115.8%</span><span>120.9%</span><span>44.4%</span><span>77.4%</span></div>
 <div class="r" style="top:195px"><span>% margin</span><span>13.4%</span><span>18.5%</span><span>16.2%</span><span>26.1%</span><span>23.4%</span><span>24.5%</span><span>33.8%</span><span>24.8%</span><span>29.0%</span></div>
 <div class="r" style="top:230px"><span>AT refund</span><span class="u">22</span><span>23</span><span>45</span><span class="u">32</span><span>57</span><span class="u">89</span><span>47</span><span>88</span><span>135</span></div>
 <div class="r" style="top:248px"><span>s % revenue</span><span>3%</span><span>3%</span><span>3%</span><span>3%</span><span>4%</span><span>4%</span><span>3%</span><span>5%</span><span>4%</span></div>
 <div class="r b" style="top:283px"><span>djusted operating profit (VAT refund)</span><span>113</span><span>188</span><span>302</span><span>271</span><span>372</span><span>643</span><span>574</span><span>543</span><span>1,117</span></div>
 <div class="r" style="top:301px"><span>oY%</span><span></span><span></span><span></span><span>138.6%</span><span>97.9%</span><span>113.2%</span><span>112.0%</span><span>45.9%</span><span>73.7%</span></div>
</div>

<!-- table 4 -->
<div class="T T4" style="top:3613px;height:281px">
 <div class="abs" style="left:3px;top:14px;width:797px;height:16px;background:#dcdcdc"></div>
 <div class="abs" style="left:3px;top:30px;width:797px;height:2px;background:#7fd0b0"></div>
 <div class="abs" style="left:3px;top:46px;width:797px;height:17px;background:#0070c0"></div>
 <div class="abs" style="left:3px;top:0;width:1px;height:281px;background:#7fd0b0"></div>
 <div class="abs" style="left:213px;top:14px;width:1px;height:267px;background:#7fd0b0"></div>
 <div class="vl" style="left:414px;top:0;height:281px;background:#444"></div><div class="vl" style="left:614px;top:0;height:281px;background:#444"></div>
 <div class="hl" style="top:77px;background:#555"></div><div class="hl" style="top:93px;background:#555"></div><div class="hl" style="top:158px;background:#555"></div><div class="hl" style="top:174px;background:#555"></div>
 <div class="r b" style="top:-1px"><span style="left:5px">Years Ending December 31</span><span>1Q19</span><span>2Q19</span><span>3Q19</span><span>4Q19</span><span>1Q20</span><span>2Q20</span><span>3Q20</span><span>4Q20</span><span>1Q21</span><span>2Q21E</span><span>3Q21E</span><span>4Q21E</span></div>
 <div class="r b" style="top:15px"><span style="left:5px">Rmb mn</span><span>2019-Q1</span><span>2019-Q2</span><span>2019-Q3</span><span>2019-Q4</span><span>2020-Q1</span><span>2020-Q2</span><span>2020-Q3</span><span>2020-Q4</span><span>2021-Q1</span><span>2021-Q2</span><span>2021-Q3</span><span>2021-Q4</span></div>
 <div class="r" style="top:46px;color:#fff"><span style="left:5px">INCOME STATEMENT</span></div>
 <div class="r b" style="top:79px"><span style="left:5px">Total consolidated revenue</span><span class="u">284</span><span>401</span><span>357</span><span>537</span><span class="u">372</span><span>544</span><span>587</span><span>758</span><span class="u">773</span><span>786</span><span>822</span><span>1,096</span></div>
 <div class="r" style="top:96px"><span style="left:5px">YoY%</span><span></span><span></span><span></span><span></span><span>30.9%</span><span>35.6%</span><span>64.6%</span><span>41.0%</span><span>107.7%</span><span>44.6%</span><span>40.0%</span><span>33.3%</span></div>
 <div class="r" style="top:128px"><span style="left:5px">Cost of revenue</span><span class="u">49</span><span>70</span><span>48</span><span>61</span><span class="u">59</span><span>68</span><span>71</span><span>80</span><span class="u">79</span><span>92</span><span>99</span><span>129</span></div>
 <div class="r b" style="top:160px"><span style="left:5px">Gross profit</span><span>236</span><span>331</span><span>308</span><span>477</span><span>313</span><span>476</span><span>517</span><span>677</span><span>694</span><span>694</span><span>723</span><span>897</span></div>
 <div class="r" style="top:176px"><span style="left:5px">YoY%</span><span></span><span></span><span></span><span></span><span>32.9%</span><span>43.8%</span><span>67.5%</span><span>42.0%</span><span>121.6%</span><span>45.8%</span><span>40.0%</span><span>31.4%</span></div>
 <div class="r" style="top:192px"><span style="left:12px">% margin</span><span>82.9%</span><span>82.5%</span><span>86.5%</span><span>88.7%</span><span>84.1%</span><span>87.5%</span><span>90.0%</span><span>89.4%</span><span>89.7%</span><span>88.3%</span><span>88.0%</span><span>88.1%</span></div>
 <div class="r" style="top:225px"><span style="left:5px">Tax expense</span><span class="u">2</span><span>5</span><span>4</span><span>6</span><span class="u">2</span><span>3</span><span>5</span><span>12</span><span class="u">7</span><span>9</span><span>9</span><span>9</span></div>
 <div class="r" style="top:241px"><span style="left:5px">Selling &amp; marketing expense</span><span class="u">56</span><span>77</span><span>89</span><span>123</span><span class="u">84</span><span>90</span><span>132</span><span>176</span><span class="u">147</span><span>140</span><span>168</span><span>175</span></div>
 <div class="r" style="top:257px"><span style="left:5px">Management expense</span><span class="u">27</span><span>29</span><span>32</span><span>48</span><span class="u">31</span><span>34</span><span>48</span><span>100</span><span class="u">67</span><span>55</span><span>88</span><span>93</span></div>
 <div class="r" style="top:273px"><span style="left:5px">R&amp;D expenses</span><span class="u">135</span><span>144</span><span>150</span><span>161</span><span class="u">147</span><span>159</span><span>217</span><span>187</span><span class="u">205</span><span>231</span><span>281</span><span>301</span></div>
</div>
</body></html>
